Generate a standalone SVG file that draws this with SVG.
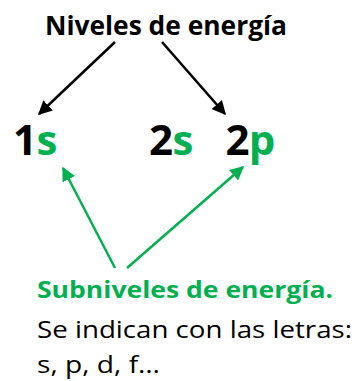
<svg xmlns="http://www.w3.org/2000/svg" width="356" height="381" viewBox="0 0 356 381">
<style>
text{font-family:"Open Sans","Noto Sans","Liberation Sans",sans-serif;}
.b{font-weight:bold;}
.blk{fill:#000;}
.grn{fill:#00B050;}
.big{font-size:42px;font-weight:bold;text-anchor:middle;}
.ab{stroke:#000;stroke-width:2.5;fill:none;}
.ag{stroke:#00B050;stroke-width:2.5;fill:none;}
</style>
<defs>
<marker id="mb" viewBox="0 0 10 10" refX="9" refY="5" markerWidth="5.6" markerHeight="5.6" orient="auto" markerUnits="strokeWidth"><path d="M0,0 L10,5 L0,10 Z" fill="#000"/></marker>
<marker id="mg" viewBox="0 0 10 10" refX="9" refY="5" markerWidth="5.6" markerHeight="5.6" orient="auto" markerUnits="strokeWidth"><path d="M0,0 L10,5 L0,10 Z" fill="#00B050"/></marker>
</defs>
<rect width="356" height="381" fill="#fff"/>
<g id="niveles"><text x="45" y="35" font-size="27" class="b blk" textLength="242" lengthAdjust="spacingAndGlyphs">Niveles de energía</text></g>
<g id="n1s"><text x="25" y="155" class="big blk">1</text><text x="47" y="155" class="big grn">s</text></g>
<g id="n2s"><text x="161" y="155" class="big blk">2</text><text x="183" y="155" class="big grn">s</text></g>
<g id="n2p"><text x="237.5" y="155" class="big blk">2</text><text x="262" y="155" class="big grn">p</text></g>
<g id="subniveles">
<text x="37" y="298" font-size="24" class="b grn" textLength="296" lengthAdjust="spacingAndGlyphs">Subniveles de energía.</text>
<text x="37" y="338" font-size="24" class="blk" textLength="315" lengthAdjust="spacingAndGlyphs">Se indican con las letras:</text>
<text x="37" y="373" font-size="24" class="blk" textLength="123" lengthAdjust="spacingAndGlyphs">s, p, d, f…</text>
</g>
<g id="connectors">
<line x1="115" y1="42" x2="39" y2="114" class="ab" marker-end="url(#mb)"/>
<line x1="162" y1="42" x2="225" y2="114" class="ab" marker-end="url(#mb)"/>
<line x1="115" y1="268" x2="63" y2="168" class="ag" marker-end="url(#mg)"/>
<line x1="127" y1="268" x2="243" y2="167" class="ag" marker-end="url(#mg)"/>
</g>
</svg>
